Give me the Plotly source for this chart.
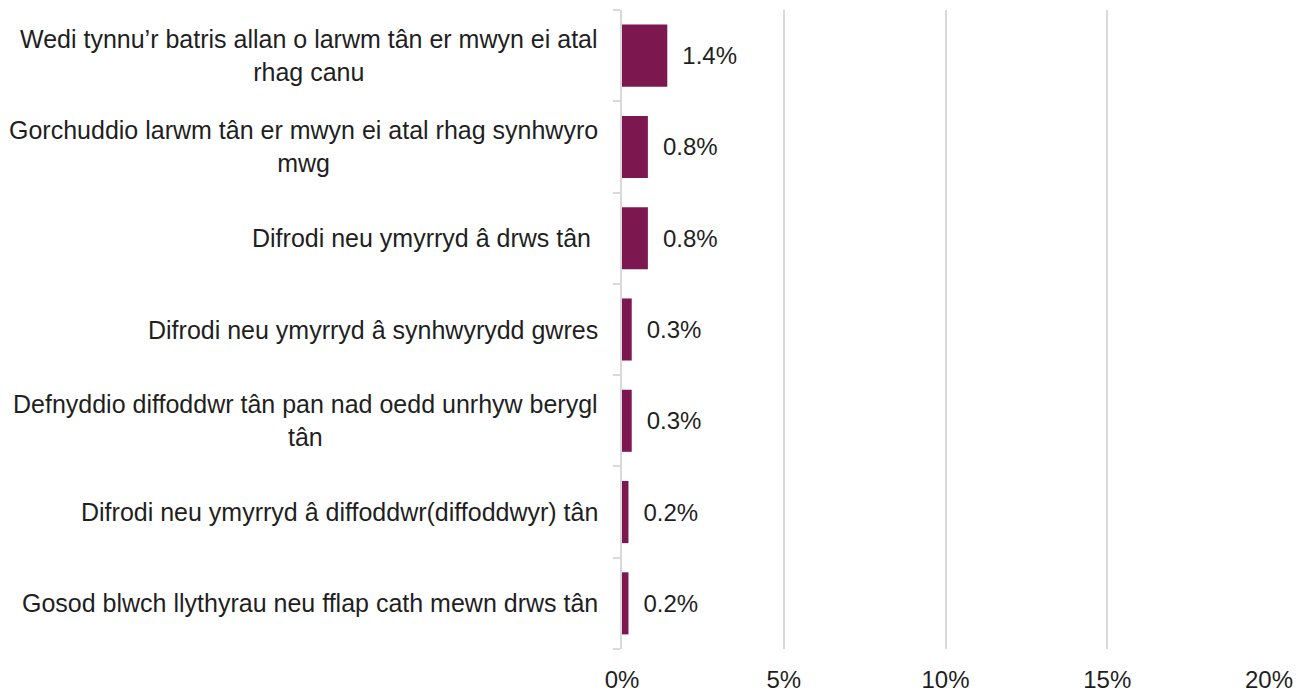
import plotly.graph_objects as go

categories = [
    "Wedi tynnu’r batris allan o larwm tân er mwyn ei atal<br>rhag canu",
    "Gorchuddio larwm tân er mwyn ei atal rhag synhwyro<br>mwg",
    "Difrodi neu ymyrryd â drws tân ",
    "Difrodi neu ymyrryd â synhwyrydd gwres",
    "Defnyddio diffoddwr tân pan nad oedd unrhyw berygl<br>tân",
    "Difrodi neu ymyrryd â diffoddwr(diffoddwyr) tân",
    "Gosod blwch llythyrau neu fflap cath mewn drws tân",
]
values = [1.4, 0.8, 0.8, 0.3, 0.3, 0.2, 0.2]
x_ticks = [0, 5, 10, 15, 20]
x_tick_labels = ["0%", "5%", "10%", "15%", "20%"]

bar_color = "#7D174F"
text_color = "#1F1F1F"
grid_color = "#D9D9D9"
font_family = "Liberation Sans, Arial, sans-serif"

fig = go.Figure(
    go.Bar(
        x=values,
        y=categories,
        orientation="h",
        marker=dict(color=bar_color, line=dict(width=0)),
        text=[f"\u2002{v}%" for v in values],
        textposition="outside",
        textfont=dict(size=24, color=text_color, family=font_family),
        cliponaxis=False,
        width=0.68,
    )
)

# category labels as annotations so the wrapped lines sit centred
annotations = [
    dict(
        x=0,
        y=c,
        xref="x",
        yref="y",
        text=c,
        showarrow=False,
        xanchor="right",
        align="center",
        xshift=-22,
        font=dict(size=25, color=text_color, family=font_family),
    )
    for c in categories
]

# the page body adds an 8px offset, margins allow for it
fig.update_layout(
    width=1309,
    height=695,
    margin=dict(l=614, r=48, t=2, b=54),
    paper_bgcolor="white",
    plot_bgcolor="white",
    showlegend=False,
    font=dict(family=font_family, color=text_color),
    annotations=annotations,
    xaxis=dict(
        range=[0, 20],
        tickvals=x_ticks,
        ticktext=x_tick_labels,
        showgrid=True,
        gridcolor=grid_color,
        gridwidth=1.5,
        zeroline=False,
        showline=False,
        tickfont=dict(size=24, color=text_color),
        ticks="",
        ticklabelstandoff=14,
    ),
    yaxis=dict(
        categoryorder="array",
        categoryarray=categories[::-1],
        autorange=False,
        range=[-0.5, len(categories) - 0.5],
        showticklabels=False,
        showline=True,
        linecolor=grid_color,
        linewidth=1.5,
        ticks="outside",
        tickson="boundaries",
        ticklen=7,
        tickcolor=grid_color,
        tickwidth=1.5,
        showgrid=False,
    ),
)

fig.write_html("out.html")
